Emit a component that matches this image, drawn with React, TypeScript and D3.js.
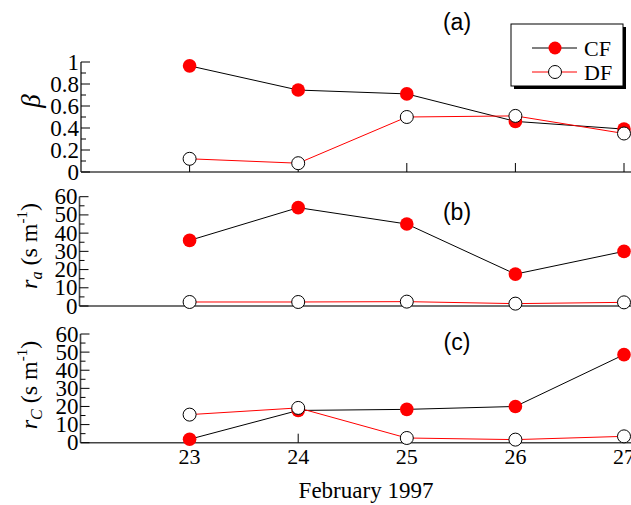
import React from "react";
import * as d3 from "d3";

const days = [23, 24, 25, 26, 27];
const betaCF = [0.965, 0.745, 0.71, 0.46, 0.39];
const betaDF = [0.12, 0.08, 0.5, 0.51, 0.35];
const raCF = [36, 54, 45, 17.5, 30];
const raDF = [2.2, 2.2, 2.4, 1.3, 2.0];
const rcCF = [1.9, 17.8, 18.4, 20, 48.6];
const rcDF = [15.5, 19.2, 2.6, 1.7, 3.5];
const betaTicks = [0, 0.2, 0.4, 0.6, 0.8, 1];
const rTicks = [0, 10, 20, 30, 40, 50, 60];
const seriesNames = ["CF", "DF"];
const xLabel = "February 1997";

const W = 631;
const H = 505;
const serif = "'Liberation Serif', 'Times New Roman', serif";
const sans = "'Liberation Sans', Arial, sans-serif";
const axisColor = "#444";

const x = d3.scaleLinear().domain([22, 27]).range([81, 624]);

type PanelProps = {
  cf: number[];
  df: number[];
  yMax: number;
  top: number;
  bottom: number;
  axisX: number;
  ticks: number[];
  minorStep: number;
  fmt: (v: number) => string;
  tag: string;
  tagY: number;
  showXLabels?: boolean;
};

function Panel(p: PanelProps) {
  const y = d3.scaleLinear().domain([0, p.yMax]).range([p.bottom, p.top]);
  const minors = d3.range(0, p.yMax + 1e-9, p.minorStep).filter(
    (v) => !p.ticks.some((t) => Math.abs(t - v) < 1e-9)
  );
  const line = d3
    .line<number>()
    .x((_, i) => x(days[i]))
    .y((d) => y(d));
  return (
    <g>
      <line x1={p.axisX} x2={p.axisX} y1={y(p.yMax)} y2={y(0)} stroke={axisColor} strokeWidth={1.6} />
      <line x1={p.axisX} x2={W} y1={y(0)} y2={y(0)} stroke={axisColor} strokeWidth={1.6} />
      {p.ticks.map((t) => (
        <g key={"t" + t}>
          <line x1={p.axisX} x2={p.axisX + 9} y1={y(t)} y2={y(t)} stroke="#000" strokeWidth={1} />
          <text
            x={p.axisX - 2}
            y={y(t) + 7.5}
            textAnchor="end"
            fontFamily={serif}
            fontSize={23}
          >
            {p.fmt(t)}
          </text>
        </g>
      ))}
      {minors.map((t) => (
        <line key={"m" + t} x1={p.axisX} x2={p.axisX + 5} y1={y(t)} y2={y(t)} stroke="#000" strokeWidth={1} />
      ))}
      {days.map((d) => (
        <g key={"x" + d}>
          <line x1={x(d)} x2={x(d)} y1={y(0)} y2={y(0) - 9} stroke="#000" strokeWidth={1} />
          {p.showXLabels && (
            <text x={x(d)} y={y(0) + 21} textAnchor="middle" fontFamily={serif} fontSize={22}>
              {d}
            </text>
          )}
        </g>
      ))}
      <path d={line(p.cf) || ""} fill="none" stroke="#000" strokeWidth={1} />
      <path d={line(p.df) || ""} fill="none" stroke="#ff0000" strokeWidth={1} />
      {p.cf.map((v, i) => (
        <circle key={"c" + i} cx={x(days[i])} cy={y(v)} r={6.8} fill="#ff0000" />
      ))}
      {p.df.map((v, i) => (
        <circle key={"d" + i} cx={x(days[i])} cy={y(v)} r={6.5} fill="#fff" stroke="#000" strokeWidth={1} />
      ))}
      <text x={457} y={p.tagY} textAnchor="middle" fontFamily={sans} fontSize={23}>
        {p.tag}
      </text>
    </g>
  );
}

function Legend() {
  const bx = 511;
  const by = 24;
  const bw = 112;
  const bh = 62;
  const rows = [
    { name: seriesNames[0], y: 48, stroke: "#000", fill: "#ff0000", mStroke: "none" },
    { name: seriesNames[1], y: 72, stroke: "#ff0000", fill: "#fff", mStroke: "#000" },
  ];
  return (
    <g>
      <rect x={bx + 3} y={by + 3} width={bw} height={bh} fill="#000" />
      <rect x={bx} y={by} width={bw} height={bh} fill="#fff" stroke="#000" strokeWidth={1} />
      {rows.map((r) => (
        <g key={r.name}>
          <line x1={532} x2={577} y1={r.y} y2={r.y} stroke={r.stroke} strokeWidth={1} />
          <circle cx={555} cy={r.y} r={6.5} fill={r.fill} stroke={r.mStroke} strokeWidth={1} />
          <text x={584} y={r.y + 7.5} fontFamily={serif} fontSize={22}>
            {r.name}
          </text>
        </g>
      ))}
    </g>
  );
}

export default function App() {
  return (
    <svg width={W} height={H} style={{ display: "block", position: "absolute", left: 0, top: 0 }}>
      <rect width={W} height={H} fill="#fff" />
      <Panel
        cf={betaCF}
        df={betaDF}
        yMax={1}
        top={62}
        bottom={172}
        axisX={81}
        ticks={betaTicks}
        minorStep={0.1}
        fmt={(v) => String(v)}
        tag="(a)"
        tagY={30}
      />
      <Panel
        cf={raCF}
        df={raDF}
        yMax={60}
        top={196.7}
        bottom={306}
        axisX={79.5}
        ticks={rTicks}
        minorStep={5}
        fmt={(v) => String(v)}
        tag="(b)"
        tagY={220}
      />
      <Panel
        cf={rcCF}
        df={rcDF}
        yMax={60}
        top={334}
        bottom={442.7}
        axisX={80.5}
        ticks={rTicks}
        minorStep={5}
        fmt={(v) => String(v)}
        tag="(c)"
        tagY={350}
        showXLabels
      />
      <Legend />
      <text
        transform="translate(40,101) rotate(-90)"
        textAnchor="middle"
        fontFamily={serif}
        fontStyle="italic"
        fontSize={27}
      >
        β
      </text>
      <text transform="translate(37,246) rotate(-90)" textAnchor="middle" fontFamily={serif} fontSize={24}>
        <tspan fontStyle="italic">r</tspan>
        <tspan fontStyle="italic" fontSize={16} dy={5}>a</tspan>
        <tspan dy={-5}> (s m</tspan>
        <tspan fontSize={15} dy={-10}>-1</tspan>
        <tspan dy={10}>)</tspan>
      </text>
      <text transform="translate(37,385) rotate(-90)" textAnchor="middle" fontFamily={serif} fontSize={24}>
        <tspan fontStyle="italic">r</tspan>
        <tspan fontStyle="italic" fontSize={16} dy={5}>C</tspan>
        <tspan dy={-5}> (s m</tspan>
        <tspan fontSize={15} dy={-10}>-1</tspan>
        <tspan dy={10}>)</tspan>
      </text>
      <text x={366} y={498} textAnchor="middle" fontFamily={serif} fontSize={23}>
        {xLabel}
      </text>
    </svg>
  );
}
